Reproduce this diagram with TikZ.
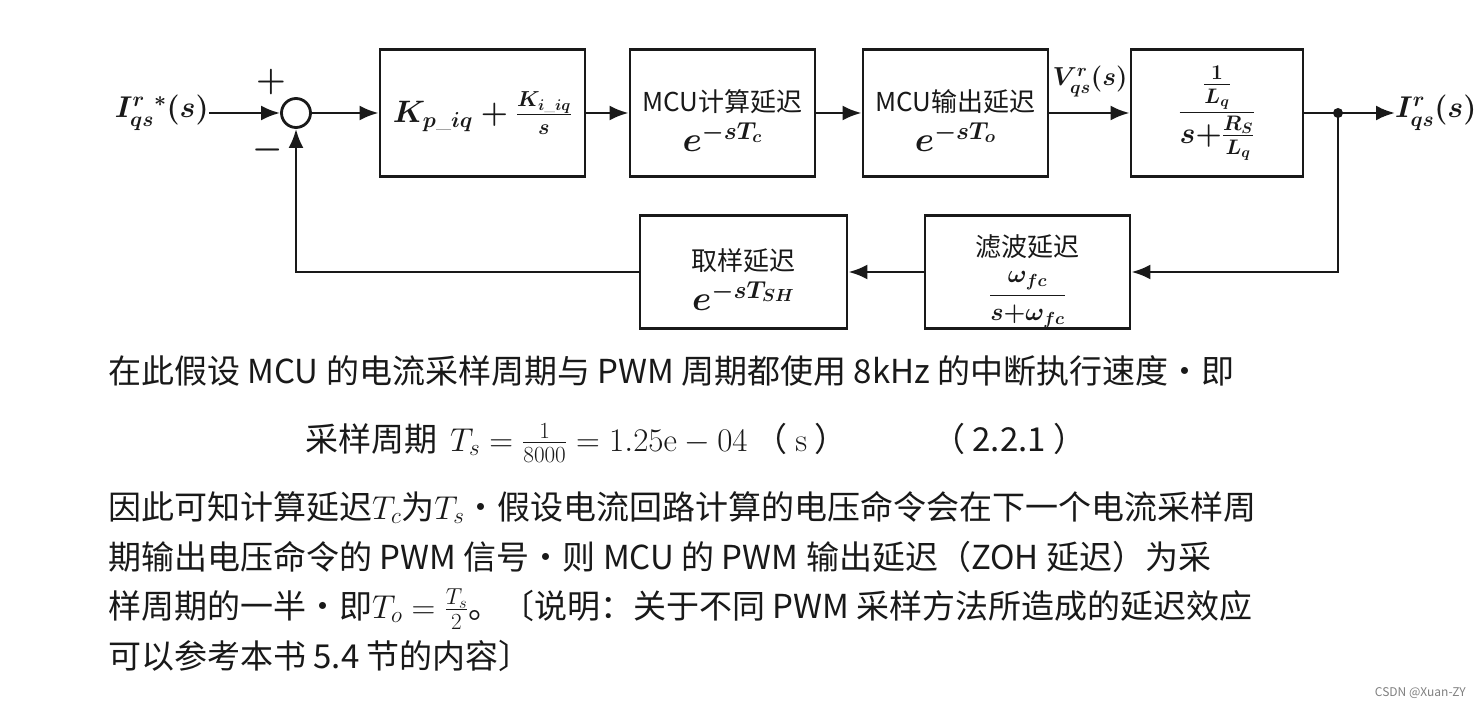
\RequirePackage{fix-cm}
\documentclass[tikz,border=0pt]{standalone}
\usepackage{amsmath}
\usepackage{fontspec}
\newfontfamily\cjk{Noto Sans CJK SC}
\usetikzlibrary{arrows.meta}
\definecolor{ink}{RGB}{25,25,25}
\begin{document}
\boldmath
\begin{tikzpicture}[x=1pt,y=-1pt,
  blk/.style={draw=ink,line width=2.8pt,inner sep=0pt,align=center,text=ink},
  lnk/.style={draw=ink,line width=2.8pt,-{Latex[length=19pt,width=15pt]}},
  plain/.style={draw=ink,line width=2.8pt},
  lbl/.style={inner sep=0pt,text=ink},
  para/.style={inner sep=0pt,anchor=base west,text=ink,font=\unboldmath\cjk\fontsize{33}{38}\selectfont}]
\path[use as bounding box,fill=white] (0,0) rectangle (1480,708);

% forward path
\node[lbl,anchor=east] (in) at (209,113) {\fontsize{30}{34}\selectfont $I_{qs}^{r}{}^{*}(s)$};
\node[draw=ink,line width=2.8pt,circle,minimum size=29pt,inner sep=0pt] (sum) at (296,113) {};
\node[lbl] (plus) at (271,82) {\fontsize{34}{36}\selectfont $+$};
\node[lbl] (minus) at (268,150) {\fontsize{34}{36}\selectfont $-$};

\node[blk,minimum width=205pt,minimum height=127pt] (pi) at (482.5,113)
  {\fontsize{31}{36}\selectfont $K_{p\_iq}+\frac{K_{i\_iq}}{s}$};
\node[blk,minimum width=185pt,minimum height=127pt] (mcuc) at (722.5,113)
  {\cjk\fontsize{26}{30}\selectfont\rule{0pt}{37pt}MCU计算延迟\\[8pt]\fontsize{35}{38}\selectfont $e^{-sT_c}$};
\node[blk,minimum width=185pt,minimum height=127pt] (mcuo) at (955.5,113)
  {\cjk\fontsize{26}{30}\selectfont\rule{0pt}{37pt}MCU输出延迟\\[8pt]\fontsize{35}{38}\selectfont $e^{-sT_o}$};
\node[blk,minimum width=172pt,minimum height=127pt] (plant) at (1217,113)
  {\fontsize{30}{36}\selectfont $\dfrac{\frac{1}{L_q}}{s{+}\frac{R_S}{L_q}}$};
\coordinate (branch) at (1338,113);
\node[lbl,anchor=west] (out) at (1395,113) {\fontsize{30}{34}\selectfont $I_{qs}^{r}(s)$};
\node[lbl] (vlab) at (1090,82) {\fontsize{26}{30}\selectfont $V_{qs}^{r}(s)$};

% feedback path
\node[blk,minimum width=205pt,minimum height=113pt] (filt) at (1027.5,272)
  {\cjk\fontsize{26}{30}\selectfont\rule{0pt}{40pt}滤波延迟\\[12pt]\fontsize{25}{28}\selectfont $\dfrac{\omega_{fc}}{s{+}\omega_{fc}}$};
\node[blk,minimum width=207pt,minimum height=113pt] (samp) at (743.5,272)
  {\cjk\fontsize{26}{30}\selectfont\rule{0pt}{37pt}取样延迟\\[8pt]\fontsize{35}{38}\selectfont $e^{-sT_{SH}}$};

\draw[lnk] (in) -- (sum);
\draw[lnk] (sum) -- (pi);
\draw[lnk] (pi) -- (mcuc);
\draw[lnk] (mcuc) -- (mcuo);
\draw[lnk] (mcuo) -- (plant);
\draw[plain] (plant) -- (branch);
\draw[lnk] (branch) -- (out);
\fill[ink] (branch) circle (5pt);
\draw[lnk] (branch) |- (filt.east);
\draw[lnk] (filt) -- (samp);
\draw[lnk] (samp.west) -| (sum.south);

% text
\node[para] (t1) at (108,383) {在此假设 MCU 的电流采样周期与 PWM 周期都使用 8kHz 的中断执行速度・即};
\node[para] (t2) at (305,451) {采样周期 \,$T_s=\frac{1}{8000}=1.25\mathrm{e}-04$ （ $\mathrm{s}$ ）};
\node[para] (t2n) at (932,451) {（ 2.2.1 ）};
\node[para] (t3) at (108,519) {因此可知计算延迟$T_c$为$T_s$・假设电流回路计算的电压命令会在下一个电流采样周};
\node[para] (t4) at (108,569) {期输出电压命令的 PWM 信号・则 MCU 的 PWM 输出延迟（ZOH 延迟）为采};
\node[para] (t5) at (108,618) {样周期的一半・即$T_o=\frac{T_s}{2}$。〔说明：关于不同 PWM 采样方法所造成的延迟效应};
\node[para] (t6) at (108,668) {可以参考本书 5.4 节的内容〕};
\node[inner sep=0pt,anchor=east,text=gray,font=\cjk\fontsize{12}{14}\selectfont] (wm) at (1466,693) {CSDN @Xuan-ZY};
\end{tikzpicture}
\end{document}
